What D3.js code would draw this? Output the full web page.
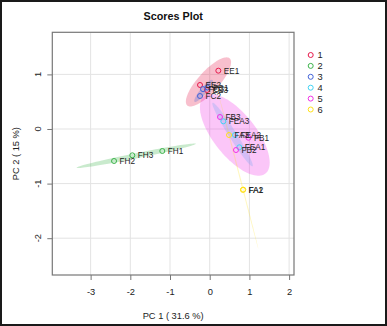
<!DOCTYPE html>
<html><head><meta charset="utf-8">
<script src="https://cdn.jsdelivr.net/npm/d3@7"></script>
<style>html,body{margin:0;padding:0;background:#fff;}svg{display:block;font-family:"Liberation Sans",Arial,sans-serif;}</style>
</head><body>
<script>
// ---- data ----
const groups = ["1","2","3","4","5","6"];
const groupColors = ["#e6194B","#3cb44b","#4363d8","#42d4f4","#f032e6","#ffe119"];
const sampleNames = ["EE1","EE2","EE3","FH1","FH2","FH3","FC1","FC2","FC3","FEA1","FEA2","FEA3","FB1","FB2","FB3","FA1","FA2","FA3"];
const sampleGroup = ["1","1","1","2","2","2","3","3","3","4","4","4","5","5","5","6","6","6"];
const pc1 = [0.217,-0.244,-0.068,-1.194,-2.410,-1.950,-0.055,-0.244,-0.169,0.746,0.637,0.343,0.975,0.662,0.259,0.836,0.846,0.486];
const pc2 = [1.068,0.806,0.714,-0.403,-0.586,-0.482,0.760,0.604,0.730,-0.335,-0.110,0.141,-0.160,-0.385,0.220,-1.115,-1.110,-0.110];
const xTicks = [-3,-2,-1,0,1,2];
const yTicks = [-2,-1,0,1];
const title = "Scores Plot";
const xTitle = "PC 1 ( 31.6 %)";
const yTitle = "PC 2 ( 15 %)";
const level = 0.95;

// ---- layout ----
const W = 387, H = 326;
const L = 52.3, R = 294, T = 32.3, B = 275;
const x = d3.scaleLinear().domain([-3.965, 2.123]).range([L, R]);
const y = d3.scaleLinear().domain([-2.674, 1.771]).range([B, T]);
const color = d3.scaleOrdinal().domain(groups).range(groupColors);

const svg = d3.select("body").append("svg").attr("width", W).attr("height", H);
svg.append("rect").attr("width", W).attr("height", H).attr("fill", "#fff");

// grid
svg.append("g").selectAll("line").data(xTicks).join("line")
  .attr("x1", d => x(d)).attr("x2", d => x(d)).attr("y1", T).attr("y2", B)
  .attr("stroke", "#e3e3e3").attr("stroke-width", 1);
svg.append("g").selectAll("line").data(yTicks).join("line")
  .attr("y1", d => y(d)).attr("y2", d => y(d)).attr("x1", L).attr("x2", R)
  .attr("stroke", "#e3e3e3").attr("stroke-width", 1);

// ellipses
const tval = Math.sqrt(-2 * Math.log(1 - level));
const samples = sampleNames.map((n, i) => ({name: n, g: sampleGroup[i], x: pc1[i], y: pc2[i]}));
const lineGen = d3.line().x(d => x(d[0])).y(d => y(d[1]));
groups.forEach(g => {
  const pts = samples.filter(s => s.g === g);
  const n = pts.length;
  const mx = d3.mean(pts, p => p.x), my = d3.mean(pts, p => p.y);
  const sxx = d3.sum(pts, p => (p.x - mx) ** 2) / (n - 1);
  const syy = d3.sum(pts, p => (p.y - my) ** 2) / (n - 1);
  const sxy = d3.sum(pts, p => (p.x - mx) * (p.y - my)) / (n - 1);
  const s1 = Math.sqrt(sxx), s2 = Math.sqrt(syy);
  let r = sxy / (s1 * s2); r = Math.max(-1, Math.min(1, r));
  const dd = Math.acos(r);
  const poly = d3.range(100).map(k => {
    const a = k * 2 * Math.PI / 100;
    return [mx + tval * s1 * Math.cos(a + dd / 2), my + tval * s2 * Math.cos(a - dd / 2)];
  });
  svg.append("path").attr("d", lineGen(poly) + "Z")
    .attr("fill", color(g)).attr("fill-opacity", 0.28).attr("stroke", "none");
});

// box
svg.append("rect").attr("x", L).attr("y", T).attr("width", R - L).attr("height", B - T)
  .attr("fill", "none").attr("stroke", "#777").attr("stroke-width", 1.2);

// axes
const xAxis = d3.axisBottom(x).tickValues(xTicks).tickSize(5).tickPadding(8).tickFormat(d3.format("d"));
const gx = svg.append("g").attr("transform", `translate(0,${B})`).call(xAxis);
gx.select(".domain").remove();
gx.selectAll("line").attr("stroke", "#777");
gx.selectAll("text").attr("font-size", "9.3px").attr("fill", "#222").attr("font-family", "Liberation Sans, Arial, sans-serif");
gx.selectAll("text").text(d => d < 0 ? "-" + Math.abs(d) : d);

const yAxis = d3.axisLeft(y).tickValues(yTicks).tickSize(5).tickFormat(d3.format("d"));
const gy = svg.append("g").attr("transform", `translate(${L},0)`).call(yAxis);
gy.select(".domain").remove();
gy.selectAll("line").attr("stroke", "#777");
gy.selectAll("text").remove();
svg.append("g").selectAll("text").data(yTicks).join("text")
  .attr("transform", d => `translate(${L - 11},${y(d)}) rotate(-90)`)
  .attr("text-anchor", "middle").attr("font-size", "9.3px").attr("fill", "#222")
  .text(d => d < 0 ? "-" + Math.abs(d) : d);

// titles
svg.append("text").attr("x", (L + R) / 2).attr("y", 20).attr("text-anchor", "middle")
  .attr("font-weight", "bold").attr("font-size", "10.8px").attr("fill", "#111").text(title);
svg.append("text").attr("x", (L + R) / 2).attr("y", 318.5).attr("text-anchor", "middle")
  .attr("font-size", "9.3px").attr("fill", "#222").text(xTitle);
svg.append("text").attr("transform", `translate(18.5,${(T + B) / 2}) rotate(-90)`).attr("text-anchor", "middle")
  .attr("font-size", "9.3px").attr("fill", "#222").text(yTitle);

// points
svg.append("g").selectAll("circle").data(samples).join("circle")
  .attr("cx", d => x(d.x)).attr("cy", d => y(d.y)).attr("r", 2.5)
  .attr("fill", "none").attr("stroke", d => color(d.g)).attr("stroke-width", 1);
svg.append("g").selectAll("text").data(samples).join("text")
  .attr("x", d => x(d.x) + 5.5).attr("y", d => y(d.y) + 3)
  .attr("font-size", "8.2px").attr("fill", "#222").text(d => d.name);

// legend
const lg = svg.append("g");
groups.forEach((g, i) => {
  const yy = 55 + i * 10.9;
  lg.append("circle").attr("cx", 310.7).attr("cy", yy).attr("r", 2.5)
    .attr("fill", "none").attr("stroke", color(g)).attr("stroke-width", 1);
  lg.append("text").attr("x", 317.5).attr("y", yy + 3.3).attr("font-size", "9.3px").attr("fill", "#222").text(g);
});

// outer border
svg.append("rect").attr("x", 1).attr("y", 1).attr("width", W - 2).attr("height", H - 2)
  .attr("fill", "none").attr("stroke", "#1a1a1a").attr("stroke-width", 2);
</script>
</body></html>
